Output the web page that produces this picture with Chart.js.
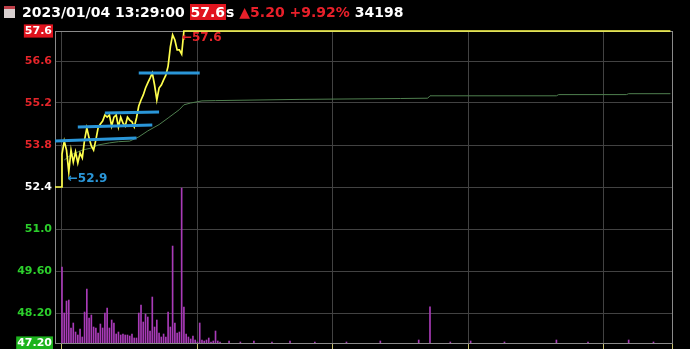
<!DOCTYPE html>
<html>
<head>
<meta charset="utf-8">
<script src="https://cdn.jsdelivr.net/npm/chart.js@4"></script>
<style>
  body { margin: 0; background: #000; overflow: hidden; }
  #wrap { position: relative; width: 690px; height: 349px; }
  #chart { position: absolute; left: 0; top: 0; }
  #hdr {
    position: absolute; left: 4px; top: 4px; height: 20px; line-height: 20px;
    font: bold 14px "DejaVu Sans", sans-serif; color: #fff; white-space: pre;
  }
  #hdr .ico {
    display: inline-block; width: 11px; height: 12px; margin-right: 7px; vertical-align: -1px;
    background: #d8d0d0; border-top: 3px solid #c0404a; box-sizing: border-box;
  }
  #hdr .box { background: #e0141e; color: #fff; padding: 0 1px; }
  #hdr .red { color: #e8202a; }
</style>
</head>
<body>
<div id="wrap">
  <canvas id="chart" width="690" height="349"></canvas>
  <div id="hdr"><span class="ico"></span>2023/01/04 13:29:00 <span class="box">57.6</span>s <span class="red">▲5.20 +9.92%</span> 34198</div>
</div>
<script>
// ============ DATOS ============
const prevClose = 52.4;
const limitUp = 57.6;
const xMin = -3.1;
const xMax = 270.2;

// auction before the open, then one price per minute (minute 0..53), then limit-up tail
const auctionMinutes = [xMin, -0.4];
const auctionPrices = [52.4, 52.4];
const minutePrices = [
  53.5, 53.93, 53.63, 52.9, 53.63, 53.23, 53.57, 53.2, 53.53, 53.37,
  53.97, 54.37, 54.03, 53.77, 53.63, 53.97, 54.37, 54.5, 54.6, 54.8,
  54.73, 54.8, 54.43, 54.73, 54.8, 54.4, 54.73, 54.53, 54.43, 54.73,
  54.63, 54.57, 54.4, 54.7, 55.1, 55.3, 55.47, 55.7, 55.87, 56.03,
  56.2, 55.8, 55.3, 55.7, 55.8, 55.97, 56.13, 56.43, 57.07, 57.47,
  57.3, 56.97, 56.97, 56.83
];
const tailMinutes = [54, 269.5];
const tailPrices = [57.6, 57.6];

// average price line
const avgMinutes = [1, 4, 9, 13, 16, 21, 25, 30, 34, 38, 43, 47, 52, 54, 57, 62, 68, 105, 150, 162, 163, 219, 220, 250, 251, 269.5];
const avgPrices = [53.3, 53.47, 53.63, 53.7, 53.8, 53.87, 53.91, 53.93, 54.07, 54.27, 54.48, 54.7, 54.98, 55.14, 55.2, 55.27, 55.28, 55.32, 55.35, 55.36, 55.44, 55.44, 55.48, 55.48, 55.51, 55.51];

// volume per minute (minute 0..70) and the few later trades
const minuteVolumes = [
  1748, 690, 966, 989, 345, 460, 253, 184, 322, 138,
  713, 1242, 575, 644, 368, 345, 230, 437, 345, 690,
  805, 345, 529, 460, 207, 253, 184, 207, 184, 184,
  161, 207, 115, 115, 690, 874, 483, 667, 598, 276,
  1058, 368, 529, 230, 138, 207, 138, 713, 368, 2231,
  460, 230, 253, 3565, 828, 207, 138, 92, 161, 69,
  23, 460, 69, 46, 69, 115, 23, 46, 276, 46, 23
];
const lateVolMinutes = [74, 79, 85, 93, 101, 112, 126, 141, 158, 163, 172, 181, 196, 219, 233, 251, 262];
const lateVolumes = [46, 23, 46, 23, 46, 23, 23, 46, 69, 830, 23, 46, 23, 69, 23, 69, 23];
const volMax = 7180;

// blue level lines
const levelStart = [xMin, 7, 19, 34];
const levelEnd = [33, 40, 43, 61];
const levelStartPrice = [53.93, 54.4, 54.87, 56.2];
const levelEndPrice = [54.03, 54.47, 54.9, 56.2];

// axis ticks
const priceTicks = [47.2, 48.2, 49.6, 51.0, 52.4, 53.8, 55.2, 56.6, 57.6];
const priceTickLabels = ['47.20', '48.20', '49.60', '51.0', '52.4', '53.8', '55.2', '56.6', '57.6'];
const gridMinutes = [0, 60, 120, 180, 240, xMax];

// marks
const lowMark = { minute: 3, price: 52.9, text: '\u219052.9', color: '#2a96d8' };
const highMark = { minute: 54, price: 57.6, text: '\u219057.6', color: '#e5252a' };

// ============ DATASETS ============
const pricePoints = []
  .concat(auctionMinutes.map((m, i) => ({ x: m, y: auctionPrices[i] })))
  .concat(minutePrices.map((p, i) => ({ x: i, y: p })))
  .concat(tailMinutes.map((m, i) => ({ x: m, y: tailPrices[i] })));

const avgPoints = avgMinutes.map((m, i) => ({ x: m, y: avgPrices[i] }));

const volPoints = minuteVolumes.map((v, i) => ({ x: i, y: v }))
  .concat(lateVolMinutes.map((m, i) => ({ x: m, y: lateVolumes[i] })));

const levelSets = levelStart.map((s, i) => ({
  type: 'line',
  data: [{ x: s, y: levelStartPrice[i] }, { x: levelEnd[i], y: levelEndPrice[i] }],
  borderColor: '#2a96d8',
  borderWidth: 3,
  pointRadius: 0,
  yAxisID: 'y'
}));

Chart.defaults.font.family = '"DejaVu Sans", sans-serif';

const markPlugin = {
  id: 'marks',
  afterDatasetsDraw(chart) {
    const c = chart.ctx, sx = chart.scales.x, sy = chart.scales.y;
    c.save();
    c.font = 'bold 12px "DejaVu Sans", sans-serif';
    c.textAlign = 'left';
    c.textBaseline = 'middle';
    c.fillStyle = lowMark.color;
    c.fillText(lowMark.text, sx.getPixelForValue(lowMark.minute) - 1, sy.getPixelForValue(lowMark.price) + 7);
    c.fillStyle = highMark.color;
    c.fillText(highMark.text, sx.getPixelForValue(highMark.minute) - 2, sy.getPixelForValue(highMark.price) + 7);
    c.restore();
  }
};

const edge = '#8a8a8a';
const grid = '#424242';

new Chart(document.getElementById('chart'), {
  type: 'line',
  data: {
    datasets: levelSets.concat([
      {
        data: pricePoints,
        borderColor: '#ffff4d',
        borderWidth: 1.7,
        pointRadius: 0,
        tension: 0,
        clip: false,
        yAxisID: 'y'
      },
      {
        data: avgPoints,
        borderColor: '#4f7f4f',
        borderWidth: 1,
        pointRadius: 0,
        yAxisID: 'y'
      },
      {
        type: 'bar',
        data: volPoints,
        backgroundColor: '#a93bb8',
        barThickness: 1,
        yAxisID: 'v'
      }
    ])
  },
  options: {
    responsive: false,
    animation: false,
    events: [],
    layout: { padding: { top: 31, right: 18, left: 0, bottom: 0 } },
    plugins: { legend: { display: false }, tooltip: { enabled: false } },
    scales: {
      x: {
        type: 'linear',
        min: xMin,
        max: xMax,
        offset: false,
        afterBuildTicks: s => { s.ticks = gridMinutes.map(v => ({ value: v })); },
        afterFit: s => { s.height = 6; },
        ticks: { display: false },
        grid: {
          offset: false,
          color: ctx => (ctx.index === gridMinutes.length - 1 ? edge : grid),
          tickColor: '#c8c070',
          tickLength: 6,
          drawTicks: true
        },
        border: { color: edge }
      },
      y: {
        position: 'left',
        min: 47.2,
        max: 57.6,
        afterBuildTicks: s => { s.ticks = priceTicks.map(v => ({ value: v })); },
        afterFit: s => { s.width = 55; s.paddingTop = 0; s.paddingBottom = 0; },
        ticks: {
          padding: 3,
          font: { size: 11, weight: 'bold' },
          callback: (v, i) => priceTickLabels[i],
          color: ctx => {
            const v = ctx.tick.value;
            if (v === limitUp || v === 47.2) return '#fff';
            if (v > prevClose) return '#e5252a';
            if (v < prevClose) return '#2ccf2c';
            return '#fff';
          },
          showLabelBackdrop: ctx => ctx.index === 0 || ctx.index === priceTicks.length - 1,
          backdropColor: ctx => (ctx.index === 0 ? '#1db31d' : '#e0141e'),
          backdropPadding: { x: 1, y: 0 }
        },
        grid: {
          drawTicks: false,
          color: ctx => (ctx.index === priceTicks.length - 1 ? edge : grid)
        },
        border: { color: edge }
      },
      v: {
        display: false,
        min: 0,
        max: volMax
      }
    }
  },
  plugins: [markPlugin]
});
</script>
</body>
</html>
